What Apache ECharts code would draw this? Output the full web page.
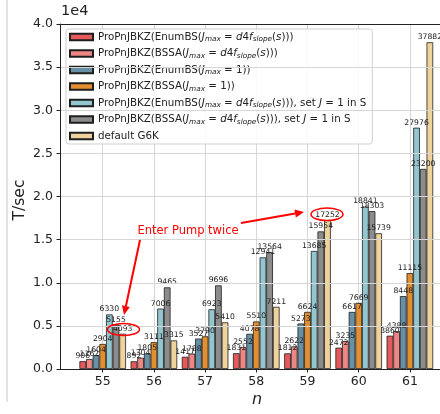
<!DOCTYPE html>
<html>
<head>
<meta charset="utf-8">
<script src="https://cdn.jsdelivr.net/npm/echarts@6/dist/echarts.min.js"></script>
<style>
  html, body { margin: 0; padding: 0; background: #ffffff; }
  #chart { width: 440px; height: 414px; }
</style>
</head>
<body>
<div id="chart"></div>
<script>
// Block sizes n on the x axis
const categories = ['55', '56', '57', '58', '59', '60', '61'];

// Running time (T/sec) for each variant
const enumBSd4f   = [906, 892, 1417, 1831, 1812, 2472, 3860];
const bssaD4f     = [1162, 1304, 1788, 2552, 2622, 3235, 4388];
const enumBS1     = [1604, 1805, 3527, 4078, 5273, 6617, 8448];
const bssa1       = [2904, 3111, 3790, 5510, 6624, 7669, 11115];
const enumBSd4fJ1 = [6330, 7006, 6923, 12941, 13685, 18841, 27976];
const bssaD4fJ1   = [5155, 9465, 9696, 13564, 15954, 18303, 23200];
const g6kDefault  = [4093, 3315, 5410, 7211, 17252, 15739, 37882];

const seriesNames = [
  'ProPnJBKZ(EnumBS(J_max = d4f_slope(s)))',
  'ProPnJBKZ(BSSA(J_max = d4f_slope(s)))',
  'ProPnJBKZ(EnumBS(J_max = 1))',
  'ProPnJBKZ(BSSA(J_max = 1))',
  'ProPnJBKZ(EnumBS(J_max = d4f_slope(s))), set J = 1 in S',
  'ProPnJBKZ(BSSA(J_max = d4f_slope(s))), set J = 1 in S',
  'default G6K'
];
// Legend labels with italic symbols and subscripts
const legendLabels = [
  'ProPnJBKZ(EnumBS({i|J}{s|max} = {i|d}4{i|f}{s|slope}({i|s})))',
  'ProPnJBKZ(BSSA({i|J}{s|max} = {i|d}4{i|f}{s|slope}({i|s})))',
  'ProPnJBKZ(EnumBS({i|J}{s|max} = 1))',
  'ProPnJBKZ(BSSA({i|J}{s|max} = 1))',
  'ProPnJBKZ(EnumBS({i|J}{s|max} = {i|d}4{i|f}{s|slope}({i|s}))), set {i|J} = 1 in S',
  'ProPnJBKZ(BSSA({i|J}{s|max} = {i|d}4{i|f}{s|slope}({i|s}))), set {i|J} = 1 in S',
  'default G6K'
];
const seriesValues = [enumBSd4f, bssaD4f, enumBS1, bssa1, enumBSd4fJ1, bssaD4fJ1, g6kDefault];
const seriesColors = ['#e5595b', '#ee8684', '#6690a6', '#e38e2f', '#93c6cf', '#8c8c8c', '#f0d39c'];

const FONT = 'DejaVu Sans';
const chart = echarts.init(document.getElementById('chart'), null, { renderer: 'canvas' });

// Arrow helper: shaft plus filled head
function arrow(x1, y1, x2, y2) {
  const ang = Math.atan2(y2 - y1, x2 - x1);
  const hl = 9, hw = 4;
  const bx = x2 - hl * Math.cos(ang), by = y2 - hl * Math.sin(ang);
  const px = -Math.sin(ang) * hw, py = Math.cos(ang) * hw;
  return [
    { type: 'line', shape: { x1: x1, y1: y1, x2: bx, y2: by }, style: { stroke: '#ff0000', lineWidth: 2 }, z: 20 },
    { type: 'polygon', shape: { points: [[x2, y2], [bx + px, by + py], [bx - px, by - py]] }, style: { fill: '#ff0000' }, z: 20 }
  ];
}

const series = seriesValues.map((vals, k) => ({
  name: seriesNames[k],
  type: 'bar',
  xAxisIndex: 1,
  yAxisIndex: 1,
  data: vals,
  barGap: '0%',
  barCategoryGap: '9%',
  itemStyle: { color: seriesColors[k], borderColor: '#1e1e1e', borderWidth: 0.8 },
  label: {
    show: true, position: 'top', distance: 1,
    fontFamily: FONT, fontSize: 7.7, color: '#222'
  },
  emphasis: { disabled: true },
  z: 2
}));

const gridBox = { top: 24, bottom: 45 };

const option = {
  animation: false,
  textStyle: { fontFamily: FONT },
  grid: [
    Object.assign({ left: 60, width: 420, show: false }, gridBox),
    Object.assign({ left: 77.1, width: 358.4 }, gridBox),
    Object.assign({ left: 102.7, width: 307.2 }, gridBox)
  ],
  xAxis: [
    { gridIndex: 0, type: 'value', min: 0, max: 1, position: 'bottom', z: 5,
      axisLine: { show: true, lineStyle: { color: '#222', width: 1 } },
      axisTick: { show: false }, axisLabel: { show: false }, splitLine: { show: false } },
    { gridIndex: 1, type: 'category', data: categories, show: false },
    { gridIndex: 2, type: 'category', data: categories, boundaryGap: false,
      axisLine: { show: false },
      axisTick: { show: true, length: 3.5, lineStyle: { color: '#222' } },
      axisLabel: { fontFamily: FONT, fontSize: 12.5, color: '#222', margin: 6 },
      splitLine: { show: true, lineStyle: { color: '#d6d6d6', width: 1 } } },
    { gridIndex: 0, type: 'value', min: 0, max: 1, position: 'top', z: 5,
      axisLine: { show: true, onZero: false, lineStyle: { color: '#222', width: 1 } },
      axisTick: { show: false }, axisLabel: { show: false }, splitLine: { show: false } }
  ],
  yAxis: [
    { gridIndex: 0, type: 'value', min: 0, max: 40000, interval: 5000, z: 5,
      axisLine: { show: true, lineStyle: { color: '#222', width: 1 } },
      axisTick: { show: true, length: 3.5, lineStyle: { color: '#222' } },
      axisLabel: { fontFamily: FONT, fontSize: 12.5, color: '#222', margin: 7,
        formatter: v => (v / 10000).toFixed(1) },
      splitLine: { show: true, lineStyle: { color: '#d6d6d6', width: 1 } } },
    { gridIndex: 1, type: 'value', min: 0, max: 40000, show: false, splitLine: { show: false } },
    { gridIndex: 2, type: 'value', min: 0, max: 1, show: false, splitLine: { show: false } }
  ],
  legend: {
    orient: 'vertical',
    left: 66, top: 29,
    padding: [2, 6, 2, 3],
    itemWidth: 23, itemHeight: 6.5,
    itemGap: 4.5, itemTextGap: 8,
    icon: 'rect',
    backgroundColor: 'rgba(255,255,255,0.85)',
    borderColor: '#cfcfcf', borderWidth: 1, borderRadius: 3,
    selectedMode: false,
    data: seriesNames,
    formatter: name => legendLabels[seriesNames.indexOf(name)],
    textStyle: {
      fontFamily: FONT, fontSize: 10.3, color: '#222', lineHeight: 12,
      rich: {
        i: { fontFamily: FONT, fontStyle: 'italic', fontSize: 10.3, color: '#222', lineHeight: 12 },
        s: { fontFamily: FONT, fontStyle: 'italic', fontSize: 7.3, color: '#222', lineHeight: 4, verticalAlign: 'bottom' }
      }
    }
  },
  graphic: [
    { type: 'line', shape: { x1: 7, y1: 0, x2: 7, y2: 402 }, style: { stroke: '#c8c8c8', lineWidth: 1 }, z: 0 },
    { type: 'text', left: 61, top: 4, style: { text: '1e4', font: '14.5px "DejaVu Sans"', fill: '#222' } },
    { type: 'text', x: 20, y: 200, rotation: Math.PI / 2,
      style: { text: 'T/sec', font: '15.5px "DejaVu Sans"', fill: '#222', align: 'center', verticalAlign: 'middle' } },
    { type: 'text', x: 257, y: 400,
      style: { text: 'n', font: 'italic 16px "DejaVu Sans"', fill: '#222', align: 'center', verticalAlign: 'middle' } },
    { type: 'text', x: 188, y: 231, z: 20,
      style: { text: 'Enter Pump twice', font: '11.5px "DejaVu Sans"', fill: '#ff0000', align: 'center', verticalAlign: 'middle' } },
    { type: 'ellipse', shape: { cx: 123.5, cy: 329.5, rx: 16, ry: 6 }, style: { stroke: '#ff0000', fill: null, lineWidth: 1.5 }, z: 20 },
    { type: 'ellipse', shape: { cx: 327, cy: 214.3, rx: 16, ry: 6.3 }, style: { stroke: '#ff0000', fill: null, lineWidth: 1.5 }, z: 20 }
  ].concat(arrow(140, 240, 124, 315)).concat(arrow(241, 223, 304, 212)),
  series: series
};

chart.setOption(option);
</script>
</body>
</html>
